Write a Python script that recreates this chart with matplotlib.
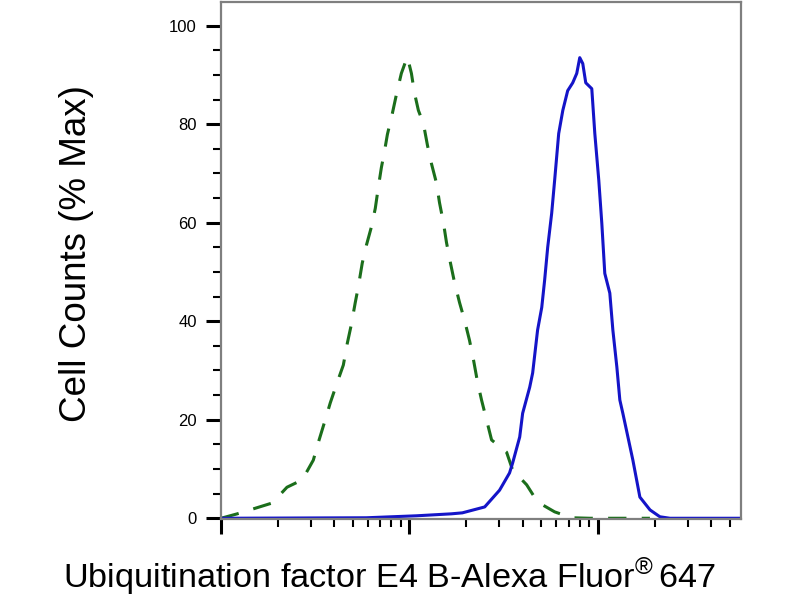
import numpy as np
import matplotlib
matplotlib.use('Agg')
import matplotlib.pyplot as plt
from matplotlib.ticker import MultipleLocator, LogLocator, NullFormatter

plt.rcParams['font.family'] = ['Liberation Sans', 'DejaVu Sans']
plt.rcParams['mathtext.fontset'] = 'custom'
plt.rcParams['mathtext.rm'] = 'Liberation Sans'

# Controle isotypique (pointillés verts)
ctrl_x = [1.00, 1.22, 1.54, 1.87, 2.24, 2.70, 3.09, 3.28, 3.57, 3.80,
          4.14, 4.46, 4.68, 4.91, 5.16, 5.35, 5.62, 5.91, 6.28, 6.59,
          6.84, 7.10, 7.36, 7.64, 8.12, 8.53, 9.06, 9.75, 10.25, 10.63,
          11.16, 11.87, 12.47, 13.09, 13.93, 14.44, 15.17, 15.73, 16.52, 17.35,
          18.45, 19.62, 20.85, 21.90, 23.0, 24.15, 25.7, 27.3, 32.8, 35.3,
          41.9, 47.9, 59.0, 72.7, 90.6, 189.0]
ctrl_y = [0.0, 0.9, 2.1, 3.1, 6.3, 7.8, 11.8, 15.3, 19.9, 23.4,
          27.6, 31.1, 35.5, 39.2, 43.8, 46.9, 51.8, 55.4, 59.1, 62.9,
          67.2, 71.2, 74.3, 77.9, 82.2, 86.0, 90.3, 93.7, 90.3, 86.4,
          82.8, 80.1, 75.7, 72.0, 68.0, 64.1, 59.9, 56.0, 51.8, 47.9,
          43.8, 40.2, 36.1, 32.1, 27.6, 24.0, 19.9, 15.9, 13.4, 9.8,
          6.8, 3.3, 1.3, 0.1, 0.0, 0.0]

# Echantillon marqué (bleu)
samp_x = [1.00, 5.91, 10.9, 16.7, 19.1, 25.1, 30.1, 34.0, 35.3, 38.5,
          39.9, 43.5, 45.1, 47.9, 50.4, 52.2, 54.2, 56.9, 59.0, 62.0,
          65.2, 69.2, 73.6, 77.3, 80.2, 83.2, 86.3, 92.9, 96.4, 101.2,
          105.0, 108.9, 115.8, 120.2, 126.2, 130.9, 135.8, 153.5, 167.2, 189.2,
          213.6, 241.5, 576.0]
samp_y = [0.0, 0.1, 0.5, 0.9, 1.1, 2.3, 5.7, 9.2, 11.2, 16.5,
          21.3, 26.6, 29.5, 38.2, 42.8, 48.3, 55.0, 61.9, 68.6, 78.1,
          82.8, 86.8, 88.4, 90.3, 93.5, 92.3, 88.4, 87.2, 78.1, 68.6,
          59.9, 49.7, 45.7, 38.2, 30.7, 24.0, 21.3, 11.8, 4.3, 1.7,
          0.3, 0.0, 0.0]

fig = plt.figure(figsize=(8, 6), dpi=100)
ax = fig.add_axes([221/800, 1 - 519/600, 520/800, 517/600])

ax.plot(ctrl_x, ctrl_y, color='#1b6e1b', lw=2.2, linestyle=(0, (6, 5)))
ax.plot(samp_x, samp_y, color='#1414c8', lw=2.2)

ax.set_xscale('log')
ax.set_xlim(1, 10**2.76)
ax.set_ylim(-0.15, 104.8)

ax.xaxis.set_major_locator(LogLocator(base=10))
ax.xaxis.set_minor_locator(LogLocator(base=10, subs=np.arange(2, 10)))
ax.xaxis.set_major_formatter(NullFormatter())
ax.xaxis.set_minor_formatter(NullFormatter())

ax.set_yticks([0, 20, 40, 60, 80, 100])
ax.yaxis.set_minor_locator(MultipleLocator(5))

ax.tick_params(which='major', direction='out', length=10.5, width=2.2,
               color='black', labelsize=12, pad=7)
ax.tick_params(which='minor', direction='out', length=5.5, width=1.5,
               color='black')

for s in ax.spines.values():
    s.set_color('#7f7f7f')
    s.set_linewidth(1.6)

fig.text(77/800, 1 - 254/600, 'Cell Counts (% Max)', rotation=90,
         ha='center', va='center', fontsize=26.5)
fig.text(390/800, 1 - 588/600,
         'Ubiquitination factor E4 B-Alexa Fluor$^{\\mathrm{®}}\\,$647',
         ha='center', va='baseline', fontsize=24.7)

fig.savefig('out.png', dpi=100)
